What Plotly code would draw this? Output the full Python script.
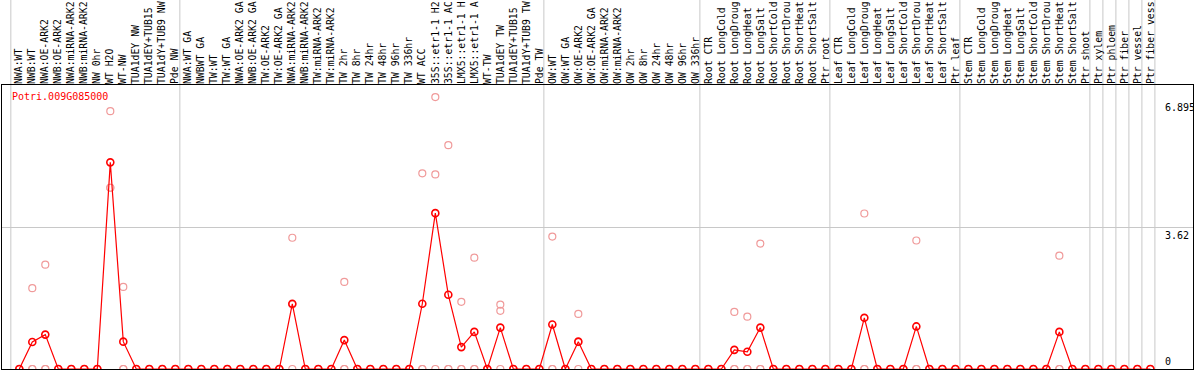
import plotly.graph_objects as go

labels = [
    "NWA:WT", "NWB:WT", "NWA:OE-ARK2", "NWB:OE-ARK2", "NWA:miRNA-ARK2", "NWB:miRNA-ARK2",
    "NW 0hr", "WT H2O", "WT-NW", "TUA1dEY NW", "TUA1dEY+TUB15", "TUA1dY+TUB9 NW", "Pde NW",
    "NWA:WT GA", "NWBWT GA", "TW:WT", "TW:WT GA", "NWA:OE-ARK2 GA", "NWB:OE-ARK2 GA",
    "TW:OE-ARK2", "TW:OE-ARK2 GA", "NWA:miRNA-ARK2", "NWB:miRNA-ARK2", "TW:miRNA-ARK2",
    "TW:miRNA-ARK2", "TW 2hr", "TW 8hr", "TW 24hr", "TW 48hr", "TW 96hr", "TW 336hr",
    "WT ACC", "35S::etr1-1 H2", "35S::etr1-1 AC", "LMX5::etr1-1 H", "LMX5::etr1-1 A",
    "WT-TW", "TUA1dEY TW", "TUA1dEY+TUB15", "TUA1dY+TUB9 TW", "Pde TW",
    "OW:WT", "OW:WT GA", "OW:OE-ARK2", "OW:OE-ARK2 GA", "OW:miRNA-ARK2", "OW:miRNA-ARK2",
    "OW 2hr", "OW 8hr", "OW 24hr", "OW 48hr", "OW 96hr", "OW 336hr",
    "Root CTR", "Root LongCold", "Root LongDroug", "Root LongHeat", "Root LongSalt",
    "Root ShortCold", "Root ShortDrou", "Root ShortHeat", "Root ShortSalt", "Ptr root",
    "Leaf CTR", "Leaf LongCold", "Leaf LongDroug", "Leaf LongHeat", "Leaf LongSalt",
    "Leaf ShortCold", "Leaf ShortDrou", "Leaf ShortHeat", "Leaf ShortSalt", "Ptr leaf",
    "Stem CTR", "Stem LongCold", "Stem LongDroug", "Stem LongHeat", "Stem LongSalt",
    "Stem ShortCold", "Stem ShortDrou", "Stem ShortHeat", "Stem ShortSalt", "Ptr shoot",
    "Ptr xylem", "Ptr phloem", "Ptr fiber", "Ptr vessel", "Ptr fiber vess",
]

# mean expression per sample (red line)
mean_values = [
    0, 0.69, 0.88, 0, 0, 0, 0, 5.29, 0.70, 0, 0, 0, 0,
    0, 0, 0, 0, 0, 0, 0, 0, 1.67, 0, 0, 0, 0.74, 0, 0, 0, 0, 0,
    1.67, 3.99, 1.90, 0.56, 0.95, 0, 1.06, 0, 0, 0,
    1.14, 0, 0.70, 0, 0, 0, 0, 0, 0, 0, 0, 0,
    0, 0, 0.49, 0.44, 1.06, 0, 0, 0, 0, 0,
    0, 0, 1.31, 0, 0, 0, 1.09, 0, 0, 0,
    0, 0, 0, 0, 0, 0, 0, 0.95, 0, 0,
    0, 0, 0, 0, 0,
]

# replicate values (pale circles), three replicates per sample
rep1 = [
    0, 2.07, 2.67, 0, 0, 0, 0, 6.60, 2.10, 0, 0, 0, 0,
    0, 0, 0, 0, 0, 0, 0, 0, 3.36, 0, 0, 0, 2.23, 0, 0, 0, 0, 0,
    5.01, 6.96, 5.73, 1.72, 2.85, 0, 1.65, 0, 0, 0,
    3.39, 0, 1.41, 0, 0, 0, 0, 0, 0, 0, 0, 0,
    0, 0, 1.46, 1.34, 3.21, 0, 0, 0, 0, 0,
    0, 0, 3.98, 0, 0, 0, 3.29, 0, 0, 0,
    0, 0, 0, 0, 0, 0, 0, 2.90, 0, 0,
    0, 0, 0, 0, 0,
]
rep2 = [
    0, 0, 0, 0, 0, 0, 0, 4.64, 0, 0, 0, 0, 0,
    0, 0, 0, 0, 0, 0, 0, 0, 1.65, 0, 0, 0, 0, 0, 0, 0, 0, 0,
    0, 4.98, 0, 0, 0, 0, 1.49, 0, 0, 0,
    0, 0, 0.69, 0, 0, 0, 0, 0, 0, 0, 0, 0,
    0, 0, 0, 0, 0, 0, 0, 0, 0, 0,
    0, 0, 0, 0, 0, 0, 0, 0, 0, 0,
    0, 0, 0, 0, 0, 0, 0, 0, 0, 0,
    0, 0, 0, 0, 0,
]
rep3 = [
    0, 0, 0, 0, 0, 0, 0, 4.64, 0, 0, 0, 0, 0,
    0, 0, 0, 0, 0, 0, 0, 0, 0, 0, 0, 0, 0, 0, 0, 0, 0, 0,
    0, 0, 0, 0, 0, 0, 0, 0, 0, 0,
    0, 0, 0, 0, 0, 0, 0, 0, 0, 0, 0, 0,
    0, 0, 0, 0, 0, 0, 0, 0, 0, 0,
    0, 0, 0, 0, 0, 0, 0, 0, 0, 0,
    0, 0, 0, 0, 0, 0, 0, 0, 0, 0,
    0, 0, 0, 0, 0,
]

# group boundaries (sample counts before each separator)
group_ends = [0, 13, 41, 53, 63, 73, 83, 84, 85, 86, 87, 88]
y_ticks = [0, 3.62, 6.895]
gene = "Potri.009G085000"

xs = list(range(1, len(labels) + 1))
X0, X1 = -0.33, 91.28
Y0, Y1 = 0, 7.27
FONT = "DejaVu Sans Mono"

fig = go.Figure()
for rep in (rep1, rep2, rep3):
    fig.add_trace(go.Scatter(
        x=xs, y=rep, mode="markers", cliponaxis=False, hoverinfo="skip",
        marker=dict(symbol="circle-open", size=7, color="#f09a9a", line=dict(width=1.2, color="#f09a9a")),
    ))
fig.add_trace(go.Scatter(
    x=xs, y=mean_values, mode="lines+markers", cliponaxis=False,
    line=dict(color="#ff0000", width=1.2),
    marker=dict(symbol="circle-open", size=7, color="#ff0000", line=dict(width=1.6, color="#ff0000")),
))

shapes = []
for b in group_ends:
    xv = b + 0.5 - 0.15
    px = (xv - X0) / (X1 - X0)
    shapes.append(dict(type="line", xref="paper", yref="paper", x0=px, x1=px, y0=0, y1=1.31,
                       line=dict(color="#c8c8c8", width=1), layer="below"))

annotations = [
    dict(text=gene, xref="paper", yref="paper", x=0.0067, y=0.985, xanchor="left", yanchor="top",
         showarrow=False, font=dict(family=FONT, size=10, color="#ff0000")),
    dict(text=str(y_ticks[2]), xref="paper", yref="y", x=0.9748, y=y_ticks[2], xanchor="left", yanchor="top",
         showarrow=False, font=dict(family=FONT, size=10, color="black")),
    dict(text=str(y_ticks[1]), xref="paper", yref="y", x=0.9748, y=y_ticks[1], xanchor="left", yanchor="top",
         showarrow=False, font=dict(family=FONT, size=10, color="black")),
    dict(text=str(y_ticks[0]), xref="paper", yref="y", x=0.9748, y=y_ticks[0], xanchor="left", yanchor="bottom",
         showarrow=False, font=dict(family=FONT, size=10, color="black")),
]

fig.update_layout(
    width=1194, height=370, showlegend=False,
    margin=dict(l=2, r=1, t=85, b=1, pad=0),
    paper_bgcolor="white", plot_bgcolor="white",
    shapes=shapes, annotations=annotations,
    xaxis=dict(range=[X0, X1], side="top", tickvals=xs, ticktext=labels, tickangle=-90,
               tickfont=dict(family=FONT, size=9.8, color="black"), ticks="", showgrid=False,
               ticklabelstandoff=-2,
               zeroline=False, showline=True, mirror=True, linecolor="black", linewidth=1,
               automargin=False, fixedrange=True),
    yaxis=dict(range=[Y0, Y1], tickvals=[y_ticks[1]], showticklabels=False, ticks="",
               showgrid=True, gridcolor="#c8c8c8", gridwidth=1, zeroline=False,
               showline=True, mirror=True, linecolor="black", linewidth=1,
               automargin=False, fixedrange=True),
)

fig.write_html(
    "out.html",
    config={"displayModeBar": False},
    post_script="document.body.style.margin='0';document.body.style.overflow='hidden';",
)
